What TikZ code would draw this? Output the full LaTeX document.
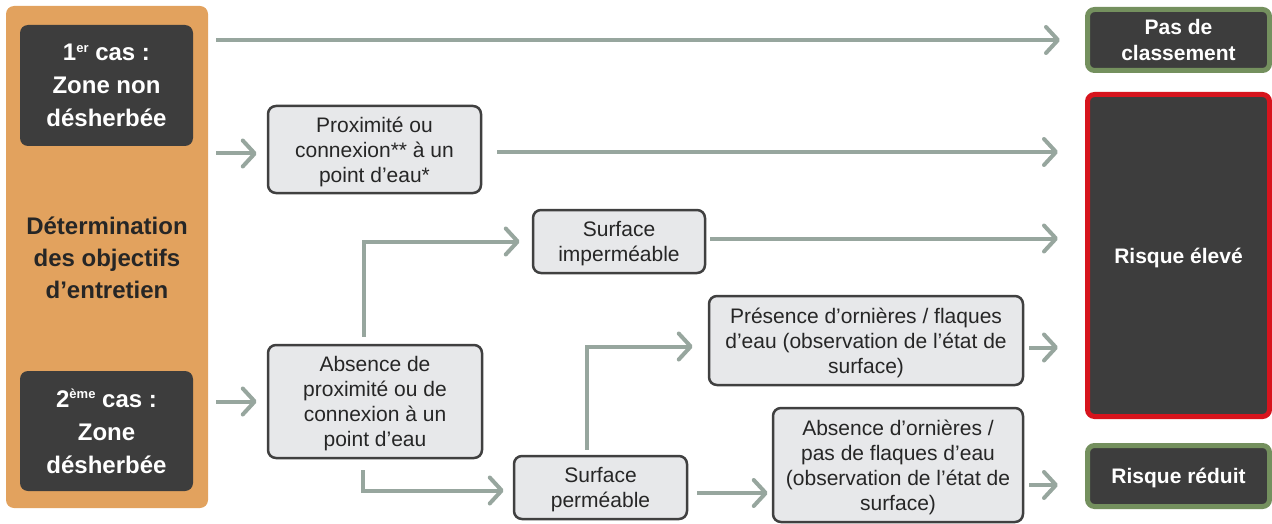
\documentclass[tikz,border=0pt]{standalone}
\usepackage{fontspec}
\setmainfont{Liberation Sans}
\usetikzlibrary{arrows.meta,calc}
\definecolor{orangebg}{HTML}{E2A25E}
\definecolor{darkbox}{HTML}{3D3D3D}
\definecolor{lightbox}{HTML}{E7E8EA}
\definecolor{boxline}{HTML}{404040}
\definecolor{arrowc}{HTML}{97A69E}
\definecolor{greenb}{HTML}{74905E}
\definecolor{redb}{HTML}{D7141D}
\definecolor{txt}{HTML}{262626}
\newcommand\mysup[1]{\raisebox{8.5pt}{\fontsize{13}{13}\selectfont #1}}
\begin{document}
\begin{tikzpicture}[x=1pt,y=-1pt,
 orangepanel/.style={fill=orangebg, rounded corners=8pt, minimum width=202pt, minimum height=502pt, inner sep=0pt},
 casebox/.style={fill=darkbox, rounded corners=8pt, text=white, font=\bfseries\fontsize{24}{33}\selectfont, align=center, minimum width=173pt, minimum height=121pt, inner sep=0pt, text depth=0pt},
 stepbox/.style={draw=boxline, line width=2.5pt, fill=lightbox, rounded corners=8pt, text=txt, font=\fontsize{21}{25}\selectfont, align=center, inner sep=0pt, text depth=0pt},
 resultbox/.style={fill=darkbox, line width=5pt, rounded corners=7pt, text=white, font=\bfseries\fontsize{21}{26}\selectfont, align=center, minimum width=182pt, inner sep=0pt, text depth=0pt},
 arr/.style={draw=arrowc, line width=4pt, -{Straight Barb[length=12pt,width=26pt,round]}},
]
\useasboundingbox (0,0) rectangle (1272,524);

\node[orangepanel] (panel) at (107,257) {};
\node[casebox] (cas1) at (106.5,85.5) {1\mysup{er} cas :\\Zone non\\désherbée};
\node[casebox, minimum height=120pt] (cas2) at (106.5,431) {2\mysup{ème} cas :\\Zone\\désherbée};
\node[text=txt, font=\bfseries\fontsize{24}{32}\selectfont, align=center, inner sep=0pt, text depth=0pt] (obj) at (107,258) {Détermination\\des objectifs\\d’entretien};

\node[resultbox, draw=greenb, minimum height=61pt] (pas) at (1178.5,40) {Pas de\\classement};
\node[resultbox, draw=redb, minimum height=322pt] (eleve) at (1178.5,255.5) {Risque élevé};
\node[resultbox, draw=greenb, minimum height=61pt] (reduit) at (1178.5,476) {Risque réduit};

\node[stepbox, minimum width=213pt, minimum height=87pt] (prox) at (374.5,149.5) {Proximité ou\\connexion** à un\\point d’eau*};
\node[stepbox, minimum width=172pt, minimum height=63pt] (imper) at (619,241.5) {Surface\\imperméable};
\node[stepbox, minimum width=314pt, minimum height=89pt] (pres) at (866,340.5) {Présence d’ornières / flaques\\d’eau (observation de l’état de\\surface)};
\node[stepbox, minimum width=214pt, minimum height=113pt] (abs) at (375,401.5) {Absence de\\proximité ou de\\connexion à un\\point d’eau};
\node[stepbox, minimum width=173pt, minimum height=63pt] (perm) at (600.5,487.5) {Surface\\perméable};
\node[stepbox, minimum width=250pt, minimum height=114pt] (absorn) at (898,465) {Absence d’ornières /\\pas de flaques d’eau\\(observation de l’état de\\surface)};

\draw[arr] ($(panel.east |- pas.west)+(8,0)$) -- ($(pas.west)+(-25,0)$);
\draw[arr] ($(panel.east |- prox.west)+(8,4)$) -- ($(prox.west)+(-10,4)$);
\draw[arr] ($(prox.east)+(15,2.5)$) -- ($(eleve.west |- prox.east)+(-27,2.5)$);
\draw[arr] ($(panel.east |- abs.west)+(8,0)$) -- ($(abs.west)+(-10,0)$);
\draw[arr] ($(abs.north)+(-11,-7)$) |- ($(imper.west)+(-12,0)$);
\draw[arr] ($(imper.east)+(4,-3)$) -- ($(eleve.west |- imper.east)+(-27,-3)$);
\draw[arr] ($(pres.east)+(5,7)$) -- ($(eleve.west |- pres.east)+(-27,7)$);
\draw[arr] ($(abs.south)+(-12,11)$) |- ($(perm.west)+(-9,3)$);
\draw[arr] ($(perm.north)+(-13.5,-5)$) |- ($(pres.west)+(-15,6)$);
\draw[arr] ($(perm.east)+(9,5.5)$) -- ($(absorn.west |- perm.east)+(-4,5.5)$);
\draw[arr] ($(absorn.east)+(5,20)$) -- ($(reduit.west |- absorn.east)+(-27,20)$);
\end{tikzpicture}
\end{document}
